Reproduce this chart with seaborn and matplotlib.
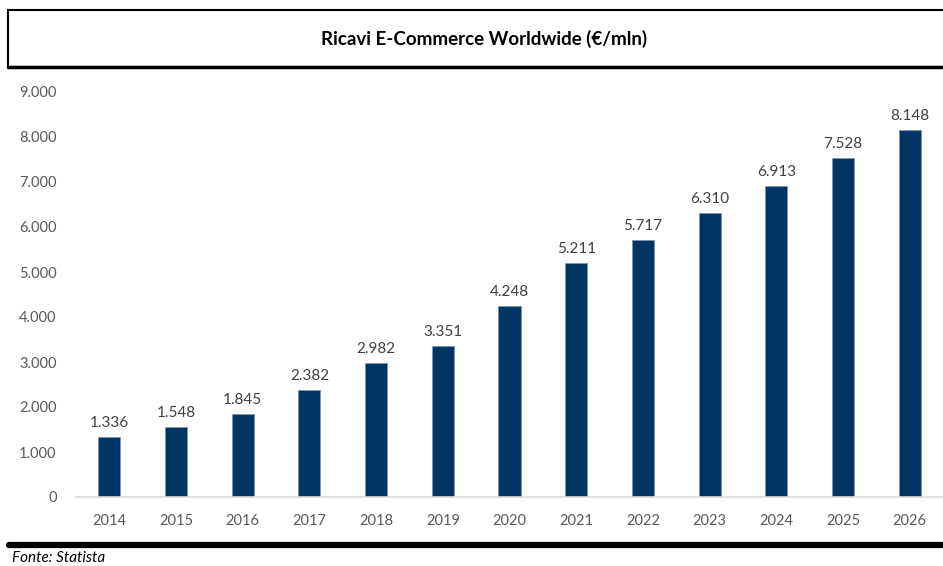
import pandas as pd
import matplotlib.pyplot as plt
import seaborn as sns
from matplotlib.patches import Rectangle

# data
years = ['2014', '2015', '2016', '2017', '2018', '2019', '2020',
         '2021', '2022', '2023', '2024', '2025', '2026']
revenue = [1336, 1548, 1845, 2382, 2982, 3351, 4248,
           5211, 5717, 6310, 6913, 7528, 8148]
y_ticks = [0, 1000, 2000, 3000, 4000, 5000, 6000, 7000, 8000, 9000]

title = 'Ricavi E-Commerce Worldwide (€/mln)'
source = 'Fonte: Statista'

def dotfmt(v):
    return f'{int(v):,}'.replace(',', '.')

sns.set_style('white')
plt.rcParams['font.family'] = ['Lato', 'DejaVu Sans']

df = pd.DataFrame({'year': years, 'rev': revenue})

fig = plt.figure(figsize=(9.43, 5.66), dpi=100)
ax = fig.add_axes([76 / 943, 69 / 566, 867 / 943, 405 / 566])

sns.barplot(data=df, x='year', y='rev', color='#003462', width=0.33,
            saturation=1, edgecolor='#7f95b3', linewidth=0.6, ax=ax)

ax.bar_label(ax.containers[0], labels=[dotfmt(v) for v in revenue],
             padding=5, fontsize=11, color='#404040')

ax.set_xlim(-0.5, 12.5)
ax.set_ylim(0, 9000)
ax.set_yticks(y_ticks)
ax.set_yticklabels([dotfmt(v) for v in y_ticks])
ax.set_xlabel('')
ax.set_ylabel('')
ax.tick_params(axis='both', length=0, labelsize=10.5, colors='#595959')
ax.tick_params(axis='x', pad=12)
ax.tick_params(axis='y', pad=14)
for s in ['top', 'right', 'left']:
    ax.spines[s].set_visible(False)
ax.spines['bottom'].set_color('#d9d9d9')
ax.spines['bottom'].set_linewidth(1.2)

# title box
fig.patches.append(Rectangle((8 / 943, 499 / 566), 1.0, 57 / 566,
                             transform=fig.transFigure, fill=False,
                             edgecolor='black', linewidth=1.5))
fig.add_artist(plt.Line2D([8 / 943, 1.0], [499 / 566, 499 / 566],
                          transform=fig.transFigure, color='black', linewidth=2.5))
fig.text(484 / 943, 527 / 566, title, ha='center', va='center',
         fontsize=13.5, fontweight='bold', color='black')

# bottom rule + source
fig.add_artist(plt.Line2D([9 / 943, 1.0], [21 / 566, 21 / 566],
                          transform=fig.transFigure, color='black', linewidth=4.5))
fig.text(12 / 943, 1 / 566, source, ha='left', va='bottom',
         fontsize=11, fontstyle='italic', color='black')

fig.savefig('out.png', dpi=100)
